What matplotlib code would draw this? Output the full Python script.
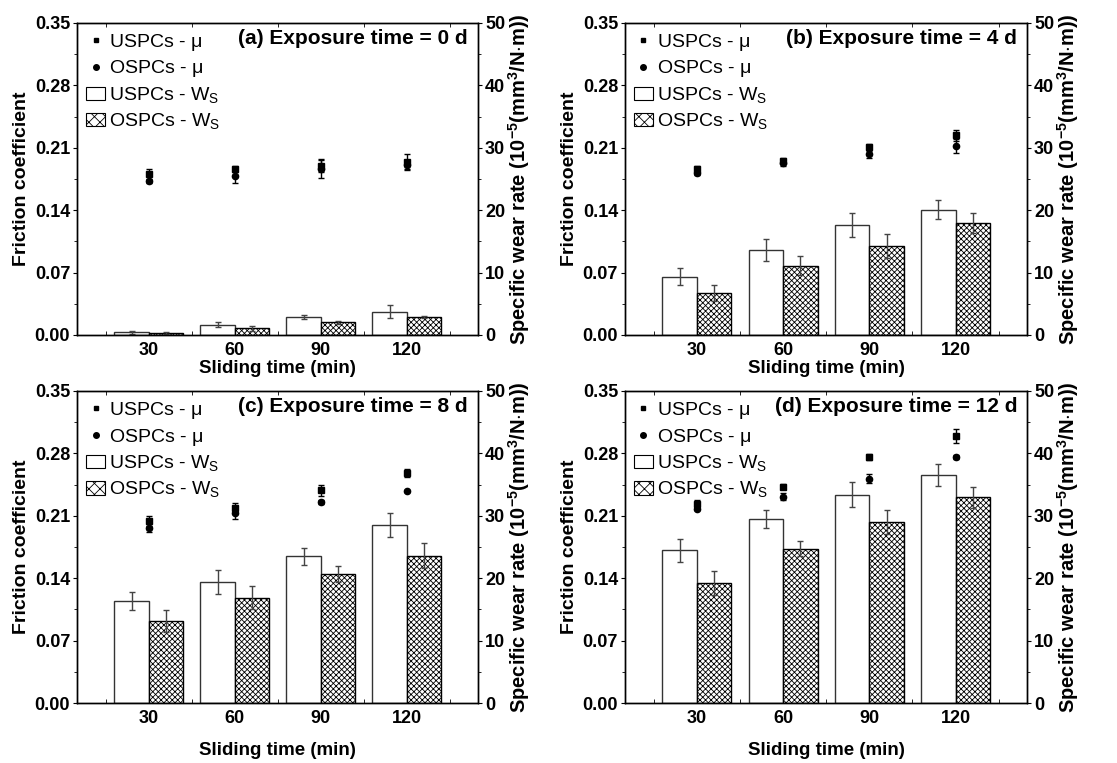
import numpy as np
import matplotlib
matplotlib.use('Agg')
from matplotlib import pyplot as plt
from matplotlib.lines import Line2D
from matplotlib.patches import Patch

plt.rcParams['font.family'] = ['Liberation Sans', 'DejaVu Sans']
plt.rcParams['mathtext.fontset'] = 'custom'
plt.rcParams['mathtext.rm'] = 'Liberation Sans'
plt.rcParams['mathtext.bf'] = 'Liberation Sans:bold'
plt.rcParams['hatch.linewidth'] = 0.6

sliding_time = ['30', '60', '90', '120']
panel_titles = ['(a) Exposure time = 0 d', '(b) Exposure time = 4 d',
                '(c) Exposure time = 8 d', '(d) Exposure time = 12 d']

# friction coefficient (left axis)
mu_u = [[0.180, 0.186, 0.190, 0.1935],
        [0.186, 0.1954, 0.2107, 0.2238],
        [0.2042, 0.2191, 0.2386, 0.258],
        [0.2236, 0.2427, 0.276, 0.2996]]
mu_u_err = [[0.006, 0.003, 0.007, 0.009],
            [0.003, 0.003, 0.003, 0.006],
            [0.006, 0.005, 0.006, 0.004],
            [0.004, 0.003, 0.003, 0.008]]
mu_o = [[0.1726, 0.1786, 0.186, 0.191],
        [0.182, 0.1924, 0.2028, 0.2118],
        [0.1963, 0.2135, 0.2255, 0.2375],
        [0.218, 0.2312, 0.2514, 0.276]]
mu_o_err = [[0.002, 0.008, 0.010, 0.005],
            [0.003, 0.003, 0.004, 0.008],
            [0.005, 0.007, 0.002, 0.001],
            [0.002, 0.004, 0.005, 0.002]]

# specific wear rate (right axis)
ws_u = [[0.43, 1.6, 2.83, 3.74],
        [9.34, 13.6, 17.66, 20.1],
        [16.35, 19.4, 23.5, 28.5],
        [24.47, 29.5, 33.4, 36.5]]
ws_u_err = [[0.2, 0.4, 0.3, 1.0],
            [1.4, 1.7, 1.9, 1.5],
            [1.4, 1.9, 1.4, 1.9],
            [1.8, 1.45, 2.0, 1.75]]
ws_o = [[0.27, 1.07, 2.03, 2.83],
        [6.67, 11.1, 14.25, 18.0],
        [13.14, 16.9, 20.7, 23.6],
        [19.2, 24.7, 29.06, 32.96]]
ws_o_err = [[0.15, 0.4, 0.2, 0.15],
            [1.3, 1.5, 1.9, 1.6],
            [1.7, 1.9, 1.3, 2.0],
            [1.9, 1.2, 1.9, 1.7]]

fig = plt.figure(figsize=(11.17, 7.63), dpi=100)
positions = [[0.069, 0.561, 0.359, 0.409],
             [0.5595, 0.561, 0.36, 0.409],
             [0.069, 0.0786, 0.359, 0.409],
             [0.5595, 0.0786, 0.36, 0.409]]

x = np.arange(1, 5)
w = 0.4

for i in range(4):
    ax = fig.add_axes(positions[i])
    ax2 = ax.twinx()
    # markers on ax, kept above the bars of ax2
    ax.set_zorder(ax2.get_zorder() + 1)
    ax.patch.set_visible(False)

    ax2.bar(x - w, ws_u[i], width=w, align='edge', facecolor='white',
            edgecolor='#333333', linewidth=1.0)
    ax2.bar(x, ws_o[i], width=w, align='edge', facecolor='white',
            edgecolor='black', hatch='xxxxxx', linewidth=1.0)
    ax2.errorbar(x - w / 2, ws_u[i], yerr=ws_u_err[i], fmt='none',
                 ecolor='#444444', elinewidth=1, capsize=2.5, capthick=1)
    ax2.errorbar(x + w / 2, ws_o[i], yerr=ws_o_err[i], fmt='none',
                 ecolor='#444444', elinewidth=1, capsize=2.5, capthick=1)

    ax.errorbar(x, mu_u[i], yerr=mu_u_err[i], fmt='s', color='black',
                markersize=4, elinewidth=1, capsize=2, capthick=1)
    ax.errorbar(x, mu_o[i], yerr=mu_o_err[i], fmt='o', color='black',
                markersize=4.5, elinewidth=1, capsize=2, capthick=1)

    ax.set_xlim(0.165, 4.83)
    ax.set_ylim(0, 0.35)
    ax2.set_ylim(0, 50)
    ax.set_yticks([0, 0.07, 0.14, 0.21, 0.28, 0.35])
    ax.set_yticklabels(['0.00', '0.07', '0.14', '0.21', '0.28', '0.35'])
    ax.set_yticks(np.arange(0.035, 0.35, 0.07), minor=True)
    ax2.set_yticks([0, 10, 20, 30, 40, 50])
    ax2.set_yticks([5, 15, 25, 35, 45], minor=True)
    ax.set_xticks(x)
    ax.set_xticklabels(sliding_time)
    ax.set_xticks([0.5, 1.5, 2.5, 3.5, 4.5], minor=True)

    ax.tick_params(axis='y', which='major', direction='out', length=3,
                   labelsize=13, pad=2)
    ax.tick_params(axis='y', which='minor', direction='out', length=2)
    ax2.tick_params(axis='y', which='major', direction='out', length=3,
                    labelsize=13, pad=2)
    ax2.tick_params(axis='y', which='minor', direction='out', length=2)
    ax.tick_params(axis='x', which='major', direction='out', length=0,
                   labelsize=13, pad=5)
    ax.tick_params(axis='x', which='minor', direction='in', length=3,
                   top=True)
    for lab in ax.get_xticklabels() + ax.get_yticklabels() + ax2.get_yticklabels():
        lab.set_fontweight('bold')

    for a in (ax, ax2):
        for s in a.spines.values():
            s.set_linewidth(1.0)

    ax.set_ylabel('Friction coefficient', fontsize=14, fontweight='bold',
                  labelpad=3)
    ax2.set_ylabel(r'Specific wear rate (10$^{\mathbf{-5}}$(mm$^{\mathbf{3}}$/N$\cdot$m))',
                   fontsize=14.5, fontweight='bold', labelpad=1)
    if i < 2:
        ax.set_xlabel('Sliding time (min)', fontsize=13.5, fontweight='bold',
                      labelpad=1)
    else:
        ax.set_xlabel('Sliding time (min)', fontsize=13.5, fontweight='bold',
                      labelpad=11)

    ax.text(0.975, 0.98, panel_titles[i], transform=ax.transAxes,
            ha='right', va='top', fontsize=15, fontweight='bold')

    handles = [Line2D([], [], marker='s', color='black', linestyle='none',
                      markersize=3.5),
               Line2D([], [], marker='o', color='black', linestyle='none',
                      markersize=4),
               Patch(facecolor='white', edgecolor='black', linewidth=0.8),
               Patch(facecolor='white', edgecolor='black', hatch='xxx',
                     linewidth=0.8)]
    labels = [r'USPCs - $\mathregular{\mu}$', r'OSPCs - $\mathregular{\mu}$',
              r'USPCs - W$_\mathregular{S}$', r'OSPCs - W$_\mathregular{S}$']
    ax.legend(handles, labels, loc='upper left', frameon=False,
              fontsize=14, handlelength=1.0, handleheight=0.7,
              handletextpad=0.2, labelspacing=0.3, borderaxespad=0.25,
              borderpad=0.2)

fig.savefig('out.png', dpi=100)
